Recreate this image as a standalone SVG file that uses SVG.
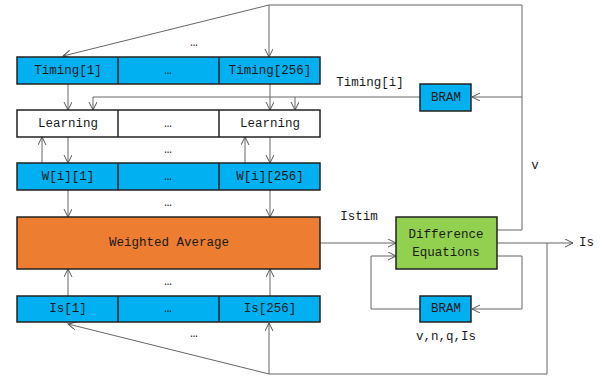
<svg xmlns="http://www.w3.org/2000/svg" width="602" height="376" viewBox="0 0 602 376">
<defs>
<marker id="ah" markerUnits="userSpaceOnUse" markerWidth="10" markerHeight="10" refX="8" refY="4" orient="auto">
<path d="M0,0 L8,4 L0,8" fill="none" stroke="#555" stroke-width="1"/>
</marker>
<style>
.box{stroke:#222;stroke-width:1.5}
.blue{fill:#00B0F0}
.white{fill:#fff}
.orange{fill:#ED7D31}
.green{fill:#92D050}
text{font-family:"Liberation Mono","DejaVu Sans Mono",monospace;font-size:12.5px;fill:#1a1a1a;text-anchor:middle;dominant-baseline:central}
.lbl{text-anchor:start}
.c{fill:none;stroke:#666;stroke-width:1}
.a{marker-end:url(#ah)}
</style>
</defs>
<rect width="602" height="376" fill="#fff"/>
<g id="connectors">
<polyline class="c" points="497,230 522,230 522,5 269,5"/>
<line class="c a" x1="269" y1="5" x2="269" y2="57"/>
<line class="c a" x1="269" y1="5" x2="63" y2="56"/>
<line class="c a" x1="522" y1="97" x2="472" y2="97"/>
<polyline class="c" points="420,97 93,97"/>
<line class="c a" x1="93" y1="97" x2="93" y2="110"/>
<line class="c a" x1="295" y1="97" x2="295" y2="110"/>
<line class="c a" x1="68" y1="84" x2="68" y2="110"/>
<line class="c a" x1="270" y1="84" x2="270" y2="110"/>
<line class="c a" x1="68" y1="137" x2="68" y2="163"/>
<line class="c a" x1="270" y1="137" x2="270" y2="163"/>
<line class="c a" x1="42" y1="163" x2="42" y2="137"/>
<line class="c a" x1="245" y1="163" x2="245" y2="137"/>
<line class="c a" x1="68" y1="190" x2="68" y2="217"/>
<line class="c a" x1="270" y1="190" x2="270" y2="217"/>
<line class="c a" x1="68" y1="296" x2="68" y2="269"/>
<line class="c a" x1="270" y1="296" x2="270" y2="269"/>
<line class="c a" x1="320" y1="243" x2="396" y2="243"/>
<line class="c a" x1="497" y1="243" x2="573" y2="243"/>
<polyline class="c" points="547,243 547,374 269,374"/>
<line class="c a" x1="269" y1="374" x2="269" y2="323"/>
<line class="c a" x1="269" y1="374" x2="68" y2="324"/>
<polyline class="c a" points="497,256 522,256 522,309 472,309"/>
<polyline class="c a" points="420,309 371,309 371,256 396,256"/>
</g>
<g id="timing-row">
<rect class="box blue" x="17" y="57" width="303" height="27"/>
<line class="box" x1="118" y1="57" x2="118" y2="84"/>
<line class="box" x1="219" y1="57" x2="219" y2="84"/>
<text x="68" y="71">Timing[1]</text>
<text x="168" y="71">…</text>
<text x="270" y="71">Timing[256]</text>
</g>
<g id="learning-row">
<rect class="box white" x="17" y="110" width="303" height="27"/>
<line class="box" x1="118" y1="110" x2="118" y2="137"/>
<line class="box" x1="219" y1="110" x2="219" y2="137"/>
<text x="68" y="124">Learning</text>
<text x="168" y="124">…</text>
<text x="270" y="124">Learning</text>
</g>
<g id="w-row">
<rect class="box blue" x="17" y="163" width="303" height="27"/>
<line class="box" x1="118" y1="163" x2="118" y2="190"/>
<line class="box" x1="219" y1="163" x2="219" y2="190"/>
<text x="68" y="177">W[i][1]</text>
<text x="168" y="177">…</text>
<text x="270" y="177">W[i][256]</text>
</g>
<g id="weighted-average">
<rect class="box orange" x="17" y="217" width="303" height="52"/>
<text x="169" y="243">Weighted Average</text>
</g>
<g id="is-row">
<rect class="box blue" x="17" y="296" width="303" height="26"/>
<line class="box" x1="118" y1="296" x2="118" y2="322"/>
<line class="box" x1="219" y1="296" x2="219" y2="322"/>
<text x="68" y="309">Is[1]</text>
<text x="168" y="309">…</text>
<text x="270" y="309">Is[256]</text>
</g>
<g id="bram-timing">
<rect class="box blue" x="420" y="84" width="51" height="27"/>
<text x="446" y="98">BRAM</text>
</g>
<g id="difference-equations">
<rect class="box green" x="396" y="217" width="101" height="52"/>
<text x="446" y="235">Difference</text>
<text x="446" y="253">Equations</text>
</g>
<g id="bram-state">
<rect class="box blue" x="420" y="296" width="51" height="26"/>
<text x="446" y="309">BRAM</text>
</g>
<g id="labels">
<text x="194" y="43">…</text>
<text x="168" y="150">…</text>
<text x="168" y="203">…</text>
<text x="168" y="282">…</text>
<text x="194" y="334">…</text>
<text x="370" y="83">Timing[i]</text>
<text x="359" y="217">Istim</text>
<text x="535" y="166">v</text>
<text class="lbl" x="579" y="243">Is</text>
<text x="446" y="337">v,n,q,Is</text>
</g>
</svg>
